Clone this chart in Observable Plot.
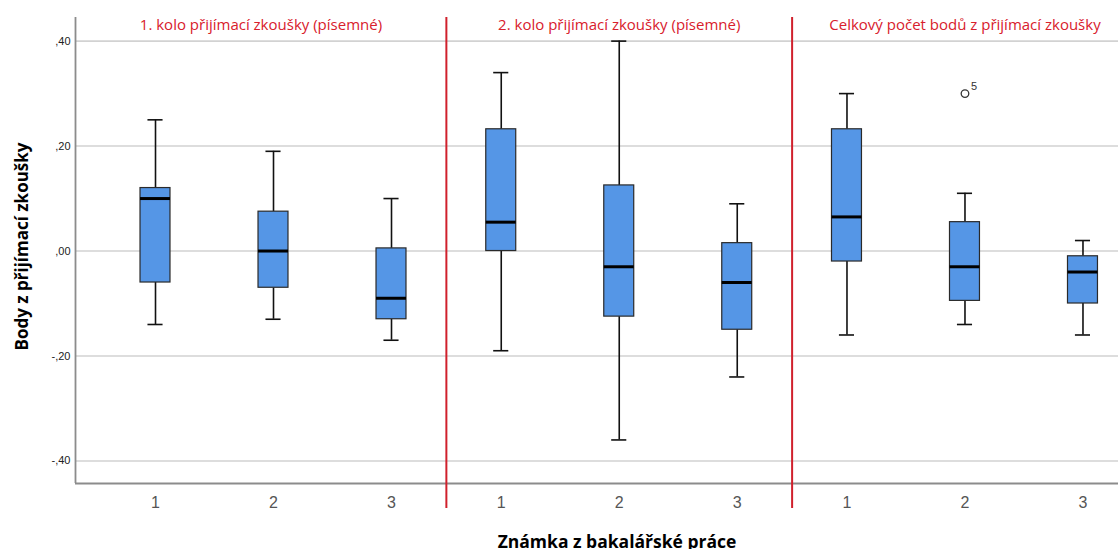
<!DOCTYPE html>
<html>
<head>
<meta charset="utf-8">
<script src="https://cdn.jsdelivr.net/npm/d3@7"></script>
<script src="https://cdn.jsdelivr.net/npm/@observablehq/plot@0.6"></script>
<style>
  html, body { margin: 0; padding: 0; background: #fff; }
  #chart { width: 1118px; height: 549px; overflow: hidden; }
</style>
</head>
<body>
<div id="chart"></div>
<script>
// ---- data ----
const panelTitles = [
  "1. kolo přijímací zkoušky (písemné)",
  "2. kolo přijímací zkoušky (písemné)",
  "Celkový počet bodů z přijímací zkoušky"
];
const grades = ["1", "2", "3"];
// one entry per box: panel-major, grade-minor
const boxPanel = [0, 0, 0, 1, 1, 1, 2, 2, 2];
const boxGrade = [0, 1, 2, 0, 1, 2, 0, 1, 2];
const whiskerHigh = [0.250, 0.190, 0.100, 0.340, 0.400, 0.090, 0.300, 0.110, 0.020];
const q3Values    = [0.120, 0.075, 0.005, 0.232, 0.125, 0.015, 0.232, 0.055, -0.010];
const medians     = [0.100, 0.000, -0.090, 0.055, -0.030, -0.060, 0.065, -0.030, -0.040];
const q1Values    = [-0.060, -0.070, -0.130, 0.000, -0.125, -0.150, -0.020, -0.095, -0.100];
const whiskerLow  = [-0.140, -0.130, -0.170, -0.190, -0.360, -0.240, -0.160, -0.140, -0.160];
const outlierPanel = [2];
const outlierGrade = [1];
const outlierValue = [0.300];
const outlierLabel = ["5"];
const yTicks = [-0.4, -0.2, 0, 0.2, 0.4];
const yTickLabels = ["-,40", "-,20", ",00", ",20", ",40"];
const yTitle = "Body z přijímací zkoušky";
const xTitle = "Známka z bakalářské práce";

// ---- layout helpers ----
const panelStep = 2.93;           // x-units between panels
const pos = (p, g) => p * panelStep + g;
const xMin = -0.678, xMax = 8.161;
const yMin = -0.443, yMax = 0.445;
const boxHalf = 0.127, capHalf = 0.064;

const boxes = boxPanel.map((p, i) => ({
  x: pos(p, boxGrade[i]),
  hi: whiskerHigh[i], q3: q3Values[i], med: medians[i], q1: q1Values[i], lo: whiskerLow[i]
}));
const outliers = outlierPanel.map((p, i) => ({
  x: pos(p, outlierGrade[i]), y: outlierValue[i], label: outlierLabel[i]
}));
const separators = [1, 2].map(p => (pos(p - 1, 2) + pos(p, 0)) / 2);
const bounds = [xMin, ...separators, pos(2, 2) + (pos(1, 0) - pos(0, 2)) / 2];
const titles = panelTitles.map((t, p) => ({ x: (bounds[p] + bounds[p + 1]) / 2, t }));
const tickPos = [];
const tickLab = new Map();
boxPanel.forEach((p, i) => { const x = pos(p, boxGrade[i]); tickPos.push(x); tickLab.set(x, grades[boxGrade[i]]); });

const chart = Plot.plot({
  width: 1118,
  height: 549,
  marginTop: 17,
  marginBottom: 66,
  marginLeft: 75,
  marginRight: 0,
  style: { fontFamily: "'Liberation Sans', Arial, sans-serif", background: "#fff", overflow: "visible" },
  x: { type: "linear", domain: [xMin, xMax], axis: null },
  y: { type: "linear", domain: [yMin, yMax], axis: null },
  marks: [
    Plot.gridY(yTicks, { stroke: "#d2d2d2", strokeOpacity: 1, strokeWidth: 1.6 }),
    Plot.ruleX([xMin], { y1: yMin, y2: yMax, stroke: "#8c8c8c", strokeWidth: 1.8 }),
    Plot.ruleY([yMin], { stroke: "#8c8c8c", strokeWidth: 1.8 }),
    Plot.axisY({
      ticks: yTicks, tickSize: 0, tickPadding: 5, fontSize: 11, fill: "#222",
      tickFormat: d => yTickLabels[yTicks.findIndex(v => Math.abs(v - d) < 1e-9)], label: null
    }),
    Plot.axisX({
      ticks: tickPos, tickSize: 0, tickPadding: 13, fontSize: 16, fill: "#555",
      tickFormat: d => tickLab.get(d), label: null
    }),
    Plot.ruleX(separators, { y1: yMax, y2: yMin - 0.0475, stroke: "#d0202c", strokeWidth: 2 }),
    // whiskers
    Plot.ruleX(boxes, { x: "x", y1: "q3", y2: "hi", stroke: "#111", strokeWidth: 1.6 }),
    Plot.ruleX(boxes, { x: "x", y1: "lo", y2: "q1", stroke: "#111", strokeWidth: 1.6 }),
    Plot.ruleY(boxes, { x1: d => d.x - capHalf, x2: d => d.x + capHalf, y: "hi", stroke: "#111", strokeWidth: 1.6 }),
    Plot.ruleY(boxes, { x1: d => d.x - capHalf, x2: d => d.x + capHalf, y: "lo", stroke: "#111", strokeWidth: 1.6 }),
    // boxes
    Plot.rect(boxes, {
      x1: d => d.x - boxHalf, x2: d => d.x + boxHalf, y1: "q1", y2: "q3",
      fill: "#5596e6", stroke: "#2a2a2a", strokeWidth: 1.2
    }),
    Plot.ruleY(boxes, { x1: d => d.x - boxHalf, x2: d => d.x + boxHalf, y: "med", stroke: "#000", strokeWidth: 3 }),
    // outliers
    Plot.dot(outliers, { x: "x", y: "y", r: 3.8, stroke: "#333", strokeWidth: 1.3, fill: "none" }),
    Plot.text(outliers, { x: "x", y: "y", text: "label", dx: 9, dy: -7, fontSize: 11, fill: "#333" }),
    // panel titles
    Plot.text(titles, {
      x: "x", y: yMax, text: "t", dy: 8, fill: "#d8202c", fontSize: 15,
      fontFamily: "'Open Sans', sans-serif"
    }),
    // axis titles
    Plot.text([yTitle], {
      frameAnchor: "left", textAnchor: "middle", dx: -53, dy: -4, rotate: -90, text: d => d, fontSize: 17,
      fontWeight: "bold", fill: "#000", fontFamily: "'Open Sans', sans-serif"
    }),
    Plot.text([xTitle], {
      frameAnchor: "bottom", textAnchor: "middle", dx: 20, dy: 64, text: d => d, fontSize: 17.5,
      fontWeight: "bold", fill: "#000", fontFamily: "'Open Sans', sans-serif"
    })
  ]
});
document.getElementById("chart").appendChild(chart);
</script>
</body>
</html>
